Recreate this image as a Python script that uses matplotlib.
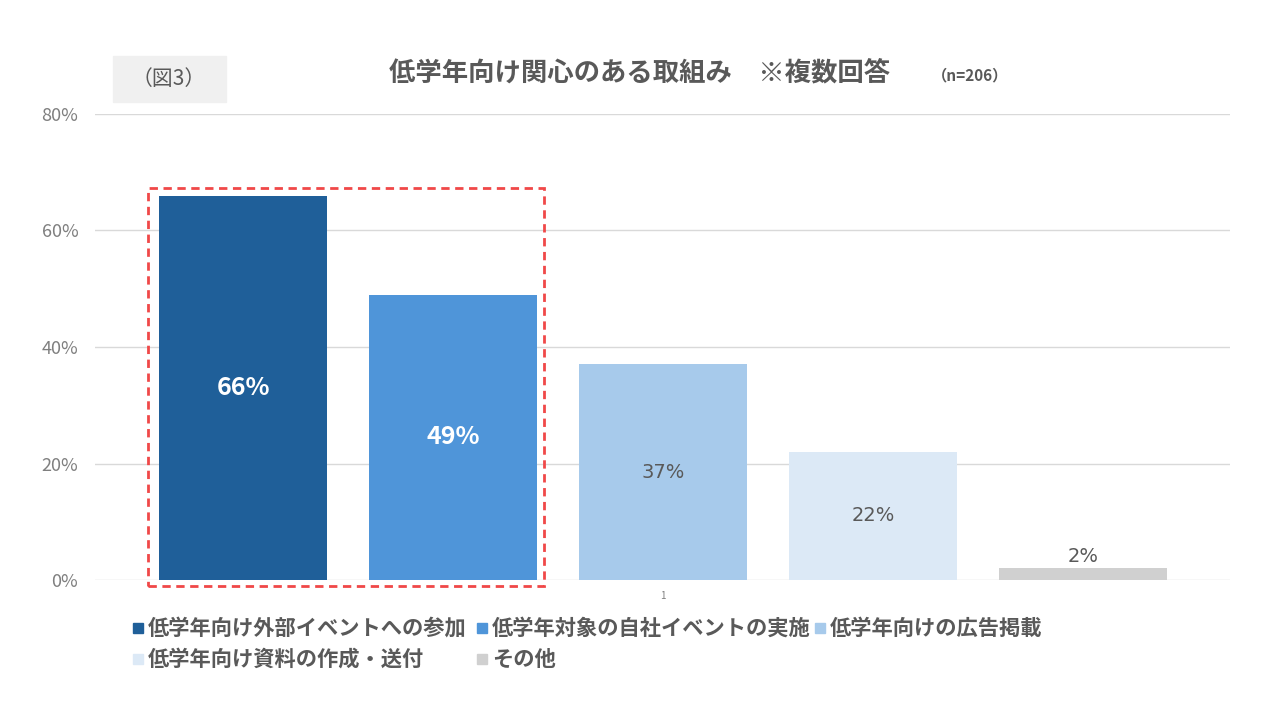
import matplotlib.pyplot as plt
from matplotlib.patches import Rectangle

plt.rcParams['font.family'] = ['Noto Sans CJK JP', 'DejaVu Sans']

labels = ['低学年向け外部イベントへの参加', '低学年対象の自社イベントの実施',
          '低学年向けの広告掲載', '低学年向け資料の作成・送付', 'その他']
values = [66, 49, 37, 22, 2]
colors = ['#1f5f99', '#4f95d9', '#a7caeb', '#dce9f6', '#d0d0d0']
label_colors = ['white', 'white', '#595959', '#595959', '#595959']
category = ['1']
yticks = [0, 20, 40, 60, 80]

fig = plt.figure(figsize=(12.8, 7.2), dpi=100)
ax = fig.add_axes([0.0742, 0.1944, 0.8867, 0.6473])

offsets = [-2, -1, 0, 1, 2]
for off, v, c, lc in zip(offsets, values, colors, label_colors):
    ax.bar(off, v, width=0.8, color=c, zorder=2)
    if v > 5:
        bold = lc == 'white'
        ax.text(off, v / 2, f'{v}%', ha='center', va='center', color=lc,
                fontsize=18 if bold else 14, fontweight='bold' if bold else 'normal',
                family=['DejaVu Sans'] if not bold else None)
    else:
        ax.text(off, v + 0.4, f'{v}%', ha='center', va='bottom', color=lc, fontsize=14,
                family=['DejaVu Sans'])

ax.set_xlim(-2.705, 2.7)
ax.set_ylim(0, 80)
ax.set_yticks(yticks)
ax.set_yticklabels([f'{t}%' for t in yticks], color='#7f7f7f', fontsize=13)
ax.set_xticks([0])
ax.set_xticklabels(category, color='#7f7f7f', fontsize=7)
ax.tick_params(length=0)
ax.tick_params(axis='y', pad=12)
ax.tick_params(axis='x', pad=8)
ax.grid(axis='y', color='#d9d9d9', linewidth=1, zorder=0)
for s in ax.spines.values():
    s.set_visible(False)

# red dashed highlight around first two bars
ax.add_patch(Rectangle((-2.452, -1.03), 1.885, 68.33, fill=False, edgecolor='#f04848',
                       linestyle=(0, (3, 2)), linewidth=2, clip_on=False, zorder=3))

# titles
fig.patches.append(Rectangle((113 / 1280, 1 - 102 / 720), 113 / 1280, 46 / 720,
                             transform=fig.transFigure, color='#f0f0f0', zorder=0))
fig.text(169 / 1280, 1 - 79 / 720, '（図3）', ha='center', va='center', fontsize=15, color='#595959')
fig.text(640 / 1280, 1 - 73 / 720, '低学年向け関心のある取組み　※複数回答', ha='center', va='center',
         fontsize=19, fontweight='bold', color='#595959')
fig.text(970 / 1280, 1 - 75 / 720, '（n=206）', ha='center', va='center', fontsize=11,
         fontweight='bold', color='#595959')

# legend (two rows)
legend_pos = [(133, 628), (477, 628), (815, 628), (133, 659), (477, 659)]
for (lx, ly), lab, c in zip(legend_pos, labels, colors):
    fig.patches.append(Rectangle((lx / 1280, 1 - (ly + 5) / 720), 10 / 1280, 10 / 720,
                                 transform=fig.transFigure, color=c))
    fig.text((lx + 15) / 1280, 1 - ly / 720, lab, ha='left', va='center', fontsize=15.3,
             fontweight='bold', color='#595959')

fig.savefig('out.png', dpi=100)
